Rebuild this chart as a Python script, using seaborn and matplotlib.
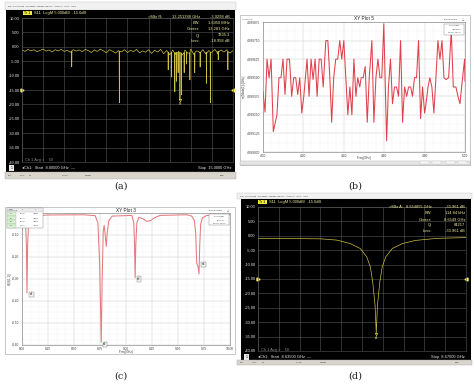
import numpy as np
import pandas as pd
import matplotlib
matplotlib.use('Agg')
import matplotlib.pyplot as plt
import seaborn as sns
from matplotlib.patches import Rectangle
from matplotlib.ticker import AutoMinorLocator

# ---------------- data ----------------
# (a) VNA broadband sweep (S11, dB)
a_base_freq = [8.0, 8.1, 8.2, 8.3, 8.4, 8.5, 8.6, 8.7, 8.8, 8.9,
               9.0, 9.1, 9.2, 9.3, 9.4, 9.5, 9.6, 9.7, 9.8, 9.9,
               10.0, 10.1, 10.2, 10.3, 10.4, 10.5, 10.6, 10.7, 10.8, 10.9,
               11.0, 11.1, 11.2, 11.3, 11.4, 11.5, 11.6, 11.7, 11.8, 11.9,
               12.0, 12.1, 12.2, 12.3, 12.4, 12.5, 12.6, 12.7, 12.8, 12.9,
               13.0, 13.1, 13.2, 13.3, 13.4, 13.5, 13.6, 13.7, 13.8, 13.9,
               14.0, 14.1, 14.2, 14.3, 14.4, 14.5, 14.6, 14.7, 14.8, 14.9,
               15.0]
a_base_db = [-1.1, -1.6, -0.9, -1.4, -1.0, -1.7, -1.2, -0.8, -1.5, -1.1,
             -1.8, -1.0, -1.4, -0.9, -1.6, -1.2, -1.9, -1.0, -1.5, -1.1,
             -1.7, -0.9, -1.3, -2.0, -1.1, -1.6, -0.8, -1.4, -2.1, -1.0,
             -1.5, -2.2, -1.3, -1.8, -1.0, -2.0, -1.2, -1.7, -0.9, -2.1,
             -1.4, -1.9, -1.0, -2.3, -1.2, -1.8, -0.9, -2.4, -1.3, -2.8,
             -1.1, -2.6, -1.5, -3.0, -1.2, -2.2, -0.8, -2.7, -1.4, -2.0,
             -1.0, -2.5, -1.3, -1.9, -0.9, -2.4, -1.1, -1.8, -1.0, -2.2,
             -1.3]
a_spike_freq = [9.642, 9.65, 9.658, 11.222, 11.23, 11.238, 12.842, 12.85, 12.858,
                12.952, 12.96, 12.968, 13.062, 13.07, 13.078, 13.122, 13.13, 13.138,
                13.172, 13.18, 13.188, 13.232, 13.24, 13.248, 13.282, 13.29, 13.298,
                13.372, 13.38, 13.388, 13.452, 13.46, 13.468, 13.562, 13.57, 13.578,
                13.722, 13.73, 13.738, 13.902, 13.91, 13.918, 14.112, 14.12, 14.128,
                14.242, 14.25, 14.258, 14.502, 14.51, 14.518, 14.822, 14.83, 14.838]
a_spike_db = [-1.5, -6.9, -1.4, -1.6, -19.4, -1.5, -1.8, -8.0, -1.9,
              -2.0, -10.5, -1.7, -2.2, -15.6, -2.0, -1.9, -12.0, -2.1,
              -2.0, -9.0, -1.8, -2.3, -18.5, -2.0, -2.1, -16.7, -2.4,
              -2.0, -9.0, -1.7, -1.6, -6.0, -1.9, -2.1, -11.5, -1.8,
              -2.2, -9.0, -1.9, -1.8, -7.0, -2.0, -1.9, -12.7, -2.2,
              -1.7, -19.4, -1.9, -1.6, -4.5, -1.8, -2.0, -8.0, -1.7]
a_marker_freq = 13.24
a_marker_db = -18.5
a_xlim = [8.0, 15.0]

# (b) HFSS XY Plot 5
b_x = [4.000, 4.010, 4.020, 4.030, 4.040, 4.051, 4.069, 4.079, 4.089, 4.099,
       4.109, 4.119, 4.131, 4.142, 4.152, 4.162, 4.172, 4.182, 4.192, 4.202,
       4.218, 4.228, 4.238, 4.248, 4.258, 4.268, 4.278, 4.288, 4.298, 4.311,
       4.321, 4.331, 4.340, 4.350, 4.360, 4.370, 4.380, 4.390, 4.400, 4.410,
       4.420, 4.430, 4.440, 4.450, 4.460, 4.469, 4.479, 4.486, 4.496, 4.506,
       4.516, 4.526, 4.539, 4.549, 4.559, 4.569, 4.579, 4.588, 4.598, 4.612,
       4.621, 4.631, 4.641, 4.651, 4.661, 4.671, 4.681, 4.691, 4.701, 4.711,
       4.721, 4.731, 4.740, 4.750, 4.760, 4.770, 4.780, 4.790, 4.800, 4.807,
       4.817, 4.826, 4.836, 4.846, 4.856, 4.866, 4.876, 4.886, 4.896, 4.906,
       4.919, 4.932, 4.942, 4.955, 4.965, 4.975, 4.988, 4.998, 5.000]
b_y = [4.9994063, 4.9992688, 4.999625, 4.9995, 4.999625, 4.9991375, 4.99925, 4.9995, 4.9995, 4.999625,
       4.9993875, 4.999625, 4.999625, 4.999375, 4.9995, 4.9995, 4.9993875, 4.9995, 4.9992625, 4.999375,
       4.999625, 4.999375, 4.999625, 4.9994875, 4.999625, 4.999375, 4.999625, 4.999625, 4.9994375, 4.99975,
       4.99975, 4.9995, 4.9992, 4.9995, 4.999625, 4.999625, 4.99975, 4.999625, 4.99975, 4.9995,
       4.99925, 4.9994375, 4.99925, 4.999625, 4.999375, 4.9995, 4.9994375, 4.9995, 4.9995, 4.999575,
       4.9992, 4.9995, 4.99975, 4.9992, 4.9995, 4.999625, 4.9995, 4.9995, 4.9998625, 4.999075,
       4.9994375, 4.999625, 4.999325, 4.9994375, 4.9994375, 4.999375, 4.99975, 4.9992, 4.9994375, 4.999375,
       4.9994375, 4.9994375, 4.999375, 4.9995, 4.9995, 4.99975, 4.999225, 4.9994375, 4.9992625, 4.999325,
       4.9994375, 4.9995, 4.9994375, 4.9992625, 4.9995, 4.99975, 4.999625, 4.99975, 4.9995, 4.9994875,
       4.9995, 4.9998188, 4.9994375, 4.9994375, 4.999375, 4.999325, 4.9995, 4.999625, 4.999475]
b_xticks = [4.00, 4.20, 4.40, 4.60, 4.80, 5.00]
b_yticks = [4.999000, 4.999125, 4.999250, 4.999375, 4.999500, 4.999625, 4.999750, 4.999875]

# (c) HFSS XY Plot 3
c_freq = [8.000, 8.032, 8.042, 8.048, 8.054, 8.067, 8.272, 8.592, 8.704, 8.730,
          8.746, 8.762, 8.771, 8.781, 8.790, 8.800, 8.810, 8.819, 8.835, 8.867,
          9.056, 9.075, 9.082, 9.088, 9.094, 9.104, 9.123, 9.162, 9.200, 9.238,
          9.280, 9.328, 9.584, 9.632, 9.658, 9.670, 9.680, 9.693, 9.702, 9.709,
          9.718, 9.734, 9.776, 10.000]
c_db = [-0.014, -0.014, -0.145, -0.363, -0.145, -0.012, -0.009, -0.008, -0.012, -0.046,
        -0.221, -0.587, -0.297, -0.084, -0.056, -0.099, -0.152, -0.091, -0.035, -0.014,
        -0.011, -0.046, -0.145, -0.294, -0.145, -0.046, -0.020, -0.026, -0.038, -0.034,
        -0.020, -0.011, -0.008, -0.014, -0.035, -0.091, -0.229, -0.244, -0.277, -0.145,
        -0.050, -0.023, -0.011, -0.008]
c_marker_names = ['m1', 'm2', 'm3', 'm4']
c_marker_x = [8.048, 8.762, 9.088, 9.702]
c_marker_y = [-0.363, -0.587, -0.294, -0.277]
c_xticks = [8.00, 8.25, 8.50, 8.75, 9.00, 9.25, 9.50, 9.75, 10.00]
c_yticks = [-0.60, -0.50, -0.40, -0.30, -0.20, -0.10]

# (d) VNA narrow sweep (S11, dB)
d_freq = [8.6350, 8.6399, 8.6455, 8.6483, 8.6505, 8.6522, 8.6533, 8.6539, 8.6543, 8.6547,
          8.6549, 8.6551, 8.6555, 8.6559, 8.6565, 8.6576, 8.6593, 8.6615, 8.6651, 8.6700]
d_db = [-0.93, -0.95, -1.05, -1.5, -2.7, -4.4, -7.3, -10.8, -16.0, -24.2,
        -34.0, -24.2, -16.0, -10.8, -7.3, -4.4, -2.7, -1.6, -0.9, -0.6]
d_marker_freq = 8.6549
d_marker_db = -34.0
d_xlim = [8.635, 8.670]

vna_yticks = [10, 5, 0, -5, -10, -15, -20, -25, -30, -35, -40]
ref_level = -15.0

# ---------------- figure ----------------
sns.set_theme(style='white')
plt.rcParams['font.family'] = ['DejaVu Sans']

W, H = 474, 387
fig = plt.figure(figsize=(W / 100, H / 100), dpi=100)
fig.patch.set_facecolor('white')


def fr(x0, y0, x1, y1):
    return [x0 / W, 1 - y1 / H, (x1 - x0) / W, (y1 - y0) / H]


def box(x0, y0, x1, y1, fc, ec='none', lw=0.4, z=-5):
    fig.add_artist(Rectangle((x0 / W, 1 - y1 / H), (x1 - x0) / W, (y1 - y0) / H,
                             transform=fig.transFigure, facecolor=fc, edgecolor=ec,
                             linewidth=lw, zorder=z))


def ftxt(x, y, s, size=3.0, color='black', ha='left', va='center', z=10, **kw):
    fig.text(x / W, 1 - y / H, s, fontsize=size, color=color, ha=ha, va=va, zorder=z, **kw)


SCREEN_FONT = ['Liberation Sans', 'DejaVu Sans']
YEL = '#ecec9a'
TRACE = '#cdbf45'


def vna_panel(menu, black, status, grat, df, xlim, rows, row_y, cols, mk, mk_lbl,
              tag_x, tag_y, start_txt, stop_txt, bottom_y, avg_y, status_items):
    box(*menu, fc='#f1f1f1', ec='#c4c4c4', lw=0.3)
    ftxt(menu[0] + 3, (menu[1] + menu[3]) / 2,
         'File   Trace/Chan   Response   Marker/Analysis   Stimulus   Utility   Help',
         size=1.5, color='#333333', family=SCREEN_FONT)
    box(*black, fc='black')
    box(*status, fc='#d9d5cd', ec='#a8a8a8', lw=0.3)
    for sx, s in status_items:
        ftxt(sx, (status[1] + status[3]) / 2, s, size=1.4, color='#333333', family=SCREEN_FONT)

    ax = fig.add_axes(fr(*grat))
    ax.set_facecolor('black')
    sns.lineplot(data=df, x='freq', y='db', ax=ax, color=TRACE, linewidth=0.5,
                 estimator=None, legend=False)
    ax.set_xlim(xlim)
    ax.set_ylim(-40, 10)
    ax.set_xticks(np.linspace(xlim[0], xlim[1], 11))
    ax.set_xticklabels([])
    ax.set_yticks(vna_yticks)
    ax.set_yticklabels([f'{v:.2f}' for v in vna_yticks], family=SCREEN_FONT)
    ax.tick_params(length=0, labelsize=2.9, labelcolor='#e6e6e6', pad=1.8)
    ax.grid(True, color='#585858', lw=0.4)
    for sp in ax.spines.values():
        sp.set_color('#585858')
        sp.set_linewidth(0.4)
    ax.set_xlabel('')
    ax.set_ylabel('')
    # reference level arrows
    ax.plot([0], [ref_level], marker='>', ms=2.2, color='#f0e860', transform=ax.get_yaxis_transform(),
            clip_on=False, ls='none')
    ax.plot([1], [ref_level], marker='<', ms=2.2, color='#f0e860', transform=ax.get_yaxis_transform(),
            clip_on=False, ls='none')
    # marker
    ax.plot([mk[0]], [mk[1]], marker='v', ms=1.8, mfc='none', mec='#f0e860', mew=0.4, ls='none')
    ax.annotate(mk_lbl, (mk[0], mk[1]), xytext=(0, -1.5), textcoords='offset points',
                ha='center', va='top', fontsize=2.4, color='#f0e860', family=SCREEN_FONT)
    # title tag
    box(tag_x, tag_y - 2.3, tag_x + 9, tag_y + 2.3, fc='#f2ea3a', z=5)
    ftxt(tag_x + 4.5, tag_y, 'Tr 1', size=2.6, color='black', ha='center', family=SCREEN_FONT)
    ftxt(tag_x + 11, tag_y, 'S11  LogM 5.000dB/  -15.0dB', size=2.9, color=YEL, family=SCREEN_FONT)
    # readouts
    for (lab, v1, v2), yy in zip(rows, row_y):
        if v1:
            ftxt(cols[0], yy, lab, size=2.9, color=YEL, ha='right', family=SCREEN_FONT)
            ftxt(cols[1], yy, v1, size=2.9, color=YEL, ha='right', family=SCREEN_FONT)
        else:
            ftxt(cols[1], yy, lab, size=2.9, color=YEL, ha='right', family=SCREEN_FONT)
        ftxt(cols[2], yy, v2, size=2.9, color=YEL, ha='right', family=SCREEN_FONT)
    # bottom texts
    ftxt(grat[0] + 3, avg_y, 'Ch 1 Avg =    50', size=2.8, color='#8a8a8a', family=SCREEN_FONT)
    box(black[0] + 3, bottom_y - 3, black[0] + 8, bottom_y + 3, fc='#e8e8e8', z=5)
    ftxt(black[0] + 5.5, bottom_y, '1', size=2.4, color='black', ha='center', family=SCREEN_FONT)
    ftxt(grat[0], bottom_y, '\u25c2Ch1:  Start  ' + start_txt + '  \u2014', size=2.9,
         color='#e6e6e6', family=SCREEN_FONT)
    ftxt(grat[2] - 1, bottom_y, 'Stop  ' + stop_txt, size=2.9, color='#e6e6e6', ha='right',
         family=SCREEN_FONT)
    return ax


df_a = pd.DataFrame({'freq': a_base_freq + a_spike_freq, 'db': a_base_db + a_spike_db})
df_a = df_a.sort_values('freq').reset_index(drop=True)
vna_panel(menu=(5, 2, 236, 10), black=(6, 10, 235, 172), status=(5, 172, 236, 179),
          grat=(22, 18, 233, 162), df=df_a, xlim=a_xlim,
          rows=[('>Mkr R:', '13.251388 GHz', '-3.9298 dB'), ('BW:', '', '1.6950 MHz'),
                ('Center:', '', '13.281 GHz'), ('Q:', '', '7835.3'), ('Loss:', '', '-18.958 dB')],
          row_y=[17, 23.5, 29.5, 35.5, 41.5], cols=(162, 200, 230),
          mk=(a_marker_freq, a_marker_db), mk_lbl='R', tag_x=23, tag_y=13,
          start_txt='8.00000 GHz', stop_txt='15.0000 GHz', bottom_y=168, avg_y=159.5,
          status_items=[(8, 'Cont.'), (20, 'CH 1:'), (29, 'S11'), (62, 'No Cal'), (85, 'LogMag'),
                        (220, 'Meas')])

df_d = pd.DataFrame({'freq': d_freq, 'db': d_db})
vna_panel(menu=(237, 193, 472, 199), black=(241, 199, 471, 360), status=(237, 360, 472, 365),
          grat=(258, 207, 466, 351), df=df_d, xlim=d_xlim,
          rows=[('>Mkr A:', '8.654855 GHz', '-33.961 dB'), ('BW:', '', '114.84 kHz'),
                ('Center:', '', '8.6549 GHz'), ('Q:', '', '84217'), ('Loss:', '', '-33.961 dB')],
          row_y=[207.5, 213.5, 219.5, 225.5, 231.5], cols=(403, 432, 465),
          mk=(d_marker_freq, d_marker_db), mk_lbl='A', tag_x=258, tag_y=202,
          start_txt='8.63500 GHz', stop_txt='8.67000 GHz', bottom_y=357, avg_y=350,
          status_items=[(240, 'Cont.'), (252, 'CH 1:'), (262, 'S11'), (296, 'No Cal'),
                        (320, 'LogMag'), (455, 'Meas')])

# ---------------- HFSS panels ----------------
HF_FONT = ['Liberation Sans', 'DejaVu Sans']


def hfss_panel(panel, plot, title, title_y, df, xcol, ycol, color, xticks, yticks, ylim, yfmt,
               xminor, yminor, ylabel, ylabel_x, legend_name, xlabel_y):
    box(*panel, fc='white', ec='#b0b0b0', lw=0.5)
    ax = fig.add_axes(fr(*plot))
    ax.set_facecolor('white')
    sns.lineplot(data=df, x=xcol, y=ycol, ax=ax, color=color, linewidth=0.75,
                 estimator=None, legend=False, sort=False)
    ax.set_xlim(xticks[0], xticks[-1])
    ax.set_ylim(*ylim)
    ax.set_xticks(xticks)
    ax.set_xticklabels([f'{v:.2f}' for v in xticks], family=HF_FONT)
    ax.set_yticks(yticks)
    ax.set_yticklabels([yfmt.format(v) for v in yticks], family=HF_FONT)
    ax.xaxis.set_minor_locator(AutoMinorLocator(xminor))
    ax.yaxis.set_minor_locator(AutoMinorLocator(yminor))
    ax.tick_params(which='both', direction='out', labelsize=2.3, labelcolor='#3a3a3a',
                   color='#707070', width=0.3, pad=0.6)
    ax.tick_params(which='major', length=1.2)
    ax.tick_params(which='minor', length=0.7)
    ax.grid(True, which='major', color='#cdcdcd', lw=0.35)
    ax.grid(True, which='minor', color='#dedede', lw=0.3, ls=':')
    for sp in ax.spines.values():
        sp.set_color('#808080')
        sp.set_linewidth(0.45)
    ax.set_xlabel('')
    ax.set_ylabel('')
    cx = (plot[0] + plot[2]) / 2
    ftxt(cx, title_y, title, size=3.4, color='#202020', ha='center', family=HF_FONT)
    ftxt(panel[0] + 2, title_y, 'Ansoft LLC', size=1.5, color='#404040', family=HF_FONT)
    ftxt(plot[2] - 7, title_y, 'HFSSDesign1', size=1.6, color='#404040', ha='right', family=HF_FONT)
    ftxt(plot[2] - 2, title_y - 0.5, '\u25b3', size=2.2, color='#505050', ha='center')
    ftxt(cx, xlabel_y, 'Freq [GHz]', size=2.0, color='#303030', ha='center', family=HF_FONT)
    ftxt(ylabel_x, (plot[1] + plot[3]) / 2, ylabel, size=2.0, color='#303030', ha='center',
         rotation=90, family=HF_FONT)
    # legend box
    lx0, ly0 = plot[2] - 21, plot[1] + 1.5
    box(lx0, ly0, plot[2] - 1, ly0 + 11, fc='white', ec='#808080', lw=0.3, z=6)
    ftxt(lx0 + 10, ly0 + 2.3, 'Curve Info', size=1.5, color='#303030', ha='center', z=11,
         family=HF_FONT)
    ax.plot([0.905, 0.925], [0.94, 0.94], color=color, lw=0.6, transform=ax.transAxes,
            zorder=12, clip_on=False)
    ftxt(lx0 + 7.5, ly0 + 5.5, legend_name, size=1.3, color='#303030', z=11, family=HF_FONT)
    ftxt(lx0 + 10, ly0 + 8.5, 'Setup1 : Sweep', size=1.3, color='#303030', ha='center', z=11,
         family=HF_FONT)
    return ax


df_b = pd.DataFrame({'x': b_x, 'b': b_y})
axb = hfss_panel(panel=(240, 15, 470, 165), plot=(263, 22, 465, 152), title='XY Plot 5', title_y=19,
                 df=df_b, xcol='x', ycol='b', color='#e0404c', xticks=b_xticks, yticks=b_yticks,
                 ylim=(b_yticks[0], b_yticks[-1]), yfmt='{:.6f}', xminor=5, yminor=2,
                 ylabel='re(Mode(1)) [GHz]', ylabel_x=243.5,
                 legend_name='re(Mode(1))', xlabel_y=157.5)
box(240, 160.5, 470, 165, fc='#e6e6e6', ec='#b0b0b0', lw=0.3)
for sx in (420, 432, 446, 458):
    box(sx, 161.3, sx + 9, 164.3, fc='#f4f4f4', ec='#b8b8b8', lw=0.2, z=-4)

df_c = pd.DataFrame({'freq': c_freq, 'c': c_db})
axc = hfss_panel(panel=(5, 207, 235, 354), plot=(22, 213, 230, 345), title='XY Plot 3', title_y=210.3,
                 df=df_c, xcol='freq', ycol='c', color='#e47a7e', xticks=c_xticks, yticks=c_yticks,
                 ylim=(c_yticks[0], 0.0), yfmt='{:.2f}', xminor=3, yminor=4,
                 ylabel='dB(S(1,1))', ylabel_x=9.5,
                 legend_name='dB(S(1,1))', xlabel_y=352.3)

# markers in (c)
offsets = [(2.0, -1.0), (1.5, -1.5), (1.5, -1.0), (2.0, 7.0)]
for name, mx, my, off in zip(c_marker_names, c_marker_x, c_marker_y, offsets):
    axc.annotate(name, (mx, my), xytext=off, textcoords='offset points', ha='left', va='center',
                 fontsize=1.8, color='#202020', family=HF_FONT,
                 bbox=dict(boxstyle='square,pad=0.25', fc='#f4f4f4', ec='#606060', lw=0.25))

# marker table (c)
tx0, ty0, tx1, ty1 = 7, 208, 43, 228
box(tx0, ty0, tx1, ty1, fc='white', ec='#808080', lw=0.3, z=6)
col_x = [tx0, tx0 + 9, tx0 + 22, tx1]
row_h = (ty1 - ty0) / 5
box(tx0, ty0, tx1, ty0 + row_h, fc='#ececec', ec='#a0a0a0', lw=0.2, z=7)
for ci, hdr in enumerate(['Name', 'X', 'Y']):
    ftxt((col_x[ci] + col_x[ci + 1]) / 2, ty0 + row_h / 2, hdr, size=1.3, color='#303030',
         ha='center', z=12, family=HF_FONT)
for ri, (name, mx, my) in enumerate(zip(c_marker_names, c_marker_x, c_marker_y)):
    yy = ty0 + row_h * (ri + 1.5)
    box(tx0, ty0 + row_h * (ri + 1), col_x[1], ty0 + row_h * (ri + 2), fc='#d8f0d0', ec='#a0a0a0',
        lw=0.2, z=7)
    ftxt((col_x[0] + col_x[1]) / 2, yy, name, size=1.3, color='#207020', ha='center', z=12,
         family=HF_FONT)
    ftxt((col_x[1] + col_x[2]) / 2, yy, f'{mx:.4f}', size=1.3, color='#303030', ha='center', z=12,
         family=HF_FONT)
    ftxt((col_x[2] + col_x[3]) / 2, yy, f'{my:.4f}', size=1.3, color='#303030', ha='center', z=12,
         family=HF_FONT)

# ---------------- captions ----------------
for (cx, cy, s) in [(121, 186, '(a)'), (355, 186, '(b)'), (121, 376, '(c)'), (355, 376, '(d)')]:
    ftxt(cx, cy, s, size=7, color='#202020', ha='center', family=['DejaVu Serif'])

fig.savefig('out.png', dpi=100, facecolor='white')
